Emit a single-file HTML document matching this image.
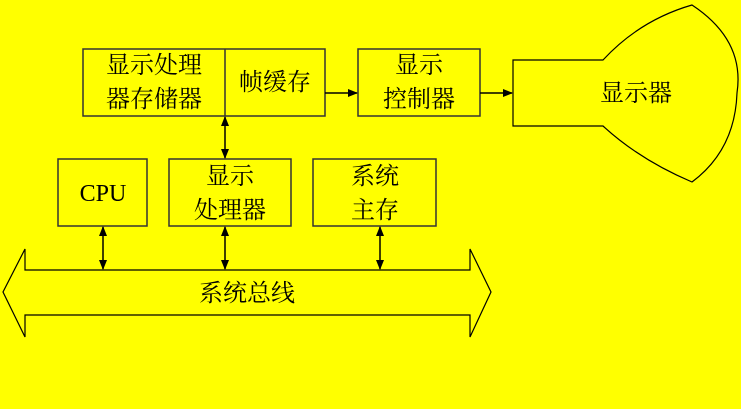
<!DOCTYPE html>
<html><head><meta charset="utf-8"><style>
html,body{margin:0;padding:0;background:#ffff00;}
svg{display:block}
text{font-family:"Liberation Serif","Noto Serif CJK SC","Noto Sans CJK SC",serif;font-size:24px;fill:#000;text-anchor:middle}
</style></head><body>
<svg width="741" height="409" viewBox="0 0 741 409" xmlns="http://www.w3.org/2000/svg">
<defs><marker id="a" markerWidth="10" markerHeight="8" refX="9" refY="4" orient="auto-start-reverse" markerUnits="userSpaceOnUse"><path d="M0,0 L10,4 L0,8 z" fill="#000"/></marker></defs>
<rect width="741" height="409" fill="#ffff00"/>
<g fill="none" stroke="#333" stroke-width="1.5">
<rect x="83" y="49" width="242" height="67"/>
<line x1="225" y1="49" x2="225" y2="116"/>
<rect x="358" y="49" width="122" height="67"/>
<rect x="58" y="159" width="89" height="67"/>
<rect x="169" y="159" width="122" height="67"/>
<rect x="313" y="159" width="123" height="67"/>
</g>
<g stroke="#000" stroke-width="1.5" fill="none">
<path d="M513,60 L603,60 Q640,20 692,5 Q745,40 737,93 Q735,150 692,182 Q640,160 603,126 L513,126 Z" stroke-width="1.2"/>
<line x1="325" y1="93" x2="357" y2="93" marker-end="url(#a)"/>
<line x1="480" y1="93" x2="512" y2="93" marker-end="url(#a)"/>
<line x1="225" y1="117" x2="225" y2="158" marker-start="url(#a)" marker-end="url(#a)"/>
<line x1="103" y1="227" x2="103" y2="269" marker-start="url(#a)" marker-end="url(#a)"/>
<line x1="225" y1="227" x2="225" y2="269" marker-start="url(#a)" marker-end="url(#a)"/>
<line x1="380" y1="227" x2="380" y2="269" marker-start="url(#a)" marker-end="url(#a)"/>
<path d="M25,270 L25,249 L3,292 L25,337 L25,315 L470,315 L470,337 L491,292 L470,249 L470,270 Z" stroke-width="1.2"/>
</g>
<text x="154" y="73">显示处理</text>
<text x="154" y="107">器存储器</text>
<text x="275" y="90">帧缓存</text>
<text x="419" y="73">显示</text>
<text x="419" y="107">控制器</text>
<text x="636" y="101">显示器</text>
<text x="103" y="201" style="font-weight:normal">CPU</text>
<text x="230" y="184">显示</text>
<text x="230" y="218">处理器</text>
<text x="375" y="184">系统</text>
<text x="375" y="218">主存</text>
<text x="247" y="301">系统总线</text>
</svg>
</body></html>
